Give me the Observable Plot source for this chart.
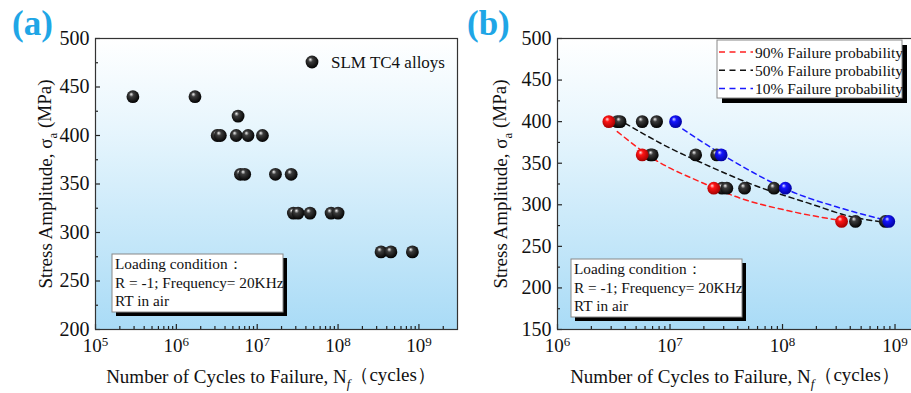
<!DOCTYPE html>
<html><head><meta charset="utf-8">
<script src="https://cdn.jsdelivr.net/npm/d3@7"></script>
<script src="https://cdn.jsdelivr.net/npm/@observablehq/plot@0.6"></script>
<style>
html,body{margin:0;padding:0;background:#fff;overflow:hidden;}
#wrap{position:relative;width:911px;height:393px;overflow:hidden;}
#wrap svg{position:absolute;top:0;}
</style></head><body><div id="wrap"></div>
<script>
// ---------- data ----------
// Panel (a): all specimens
const aCycles = [2.9e5, 1.7e6, 5.8e6, 3.2e6, 3.5e6, 5.5e6, 7.7e6, 1.16e7, 6.2e6, 7.0e6, 1.68e7, 2.63e7, 2.8e7, 3.2e7, 4.5e7, 8.2e7, 1.0e8, 3.4e8, 4.5e8, 8.3e8];
const aStress = [440, 440, 420, 400, 400, 400, 400, 400, 360, 360, 360, 360, 320, 320, 320, 320, 320, 280, 280, 280];
// Panel (b)
const bBlackCycles = [3.4e6, 3.6e6, 5.66e6, 7.6e6, 6.7e6, 6.95e6, 1.69e7, 2.6e7, 2.9e7, 3.2e7, 4.6e7, 8.4e7, 4.45e8, 8.2e8];
const bBlackStress = [400, 400, 400, 400, 360, 360, 360, 360, 320, 320, 320, 320, 280, 280];
const bRedCycles = [2.86e6, 5.66e6, 2.45e7, 3.35e8];
const bRedStress = [400, 360, 320, 280];
const bBlueCycles = [1.12e7, 2.85e7, 1.06e8, 8.8e8];
const bBlueStress = [400, 360, 320, 280];
// fitted P-S-N curves
const redLineN = [3.4e6, 7.2e6, 1.9e7, 4.2e7, 1.2e8, 3.3e8];
const redLineS = [388, 355, 327, 308, 292, 281];
const blackLineN = [4.0e6, 9.4e6, 2.1e7, 6.0e7, 1.7e8, 4.0e8, 8.0e8];
const blackLineS = [398, 370, 348, 322, 302, 286, 279];
const blueLineN = [1.3e7, 3.7e7, 1.2e8, 3.3e8, 8.5e8];
const blueLineS = [391, 352, 316, 296, 281];
// ticks and labels
const aXTicks = [1e5, 1e6, 1e7, 1e8, 1e9];
const aYTicks = [200, 250, 300, 350, 400, 450, 500];
const bXTicks = [1e6, 1e7, 1e8, 1e9];
const bYTicks = [150, 200, 250, 300, 350, 400, 450, 500];
const legendA = ["SLM TC4 alloys"];
const legendB = ["90% Failure probability", "50% Failure probability", "10% Failure probability"];
const legendBColors = ["#ff2020", "#111111", "#1a1aff"];
const loadingText = ["Loading condition：", "R = -1; Frequency= 20KHz", "RT in air"];
const panelLabels = ["(a)", "(b)"];

// ---------- helpers ----------
const FONT = "'Liberation Serif','Times New Roman',serif";
const toPairs = (xs, ys) => xs.map((x, i) => ({x, y: ys[i]}));
function minorLog(ticks, dom) {
  const out = [];
  const lo = Math.floor(Math.log10(dom[0])), hi = Math.ceil(Math.log10(dom[1]));
  for (let e = lo; e <= hi; e++) for (let m = 2; m <= 9; m++) {
    const v = m * Math.pow(10, e);
    if (v > dom[0] && v < dom[1]) out.push(v);
  }
  return out;
}
function minorLin(ticks) {
  const out = [];
  for (let i = 0; i < ticks.length - 1; i++) out.push((ticks[i] + ticks[i + 1]) / 2);
  return out;
}
function addDefs(svg, pre) {
  const defs = d3.select(svg).insert("defs", ":first-child");
  const bg = defs.append("linearGradient").attr("id", pre + "bg").attr("x1", 0).attr("y1", 0).attr("x2", 0).attr("y2", 1);
  [[0, "#ffffff"], [0.3, "#e8f6fd"], [1, "#a9dbf6"]].forEach(([o, c]) => bg.append("stop").attr("offset", o).attr("stop-color", c));
  const balls = {black: ["#f4f4f4", "#3c3c3c", "#000000"], red: ["#ffe0e0", "#ff1515", "#a00000"], blue: ["#e0e0ff", "#1515ff", "#00009a"]};
  for (const [k, [c0, c1, c2]] of Object.entries(balls)) {
    const g = defs.append("radialGradient").attr("id", pre + k)
      .attr("cx", 0.45).attr("cy", 0.42).attr("r", 0.6).attr("fx", 0.36).attr("fy", 0.3);
    g.append("stop").attr("offset", 0).attr("stop-color", c0);
    g.append("stop").attr("offset", 0.3).attr("stop-color", c1);
    g.append("stop").attr("offset", 1).attr("stop-color", c2);
  }
}
function axisMarks(xTicks, yTicks, xDom, innerW, innerH) {
  return [
    Plot.axisX({ticks: xTicks, tickSize: 0, tickPadding: 9, tickFormat: d => "10^" + Math.round(Math.log10(d)), label: null, fontSize: 19}),
    Plot.axisY({ticks: yTicks, tickSize: 0, tickPadding: 6, label: null, fontSize: 20}),
    Plot.tickX(xTicks, {x: d => d, insetTop: innerH - 5, stroke: "#222", strokeWidth: 1.2}),
    Plot.tickX(minorLog(xTicks, xDom), {x: d => d, insetTop: innerH - 3, stroke: "#222", strokeWidth: 1.2}),
    Plot.tickY(yTicks, {y: d => d, insetRight: innerW - 5, stroke: "#222", strokeWidth: 1.2}),
    Plot.tickY(minorLin(yTicks), {y: d => d, insetRight: innerW - 3, stroke: "#222", strokeWidth: 1.2})
  ];
}
function fixExponents(svg) {
  d3.select(svg).selectAll('g[aria-label="x-axis tick label"] text').each(function () {
    const t = d3.select(this);
    const parts = t.text().split("^");
    if (parts.length < 2) return;
    t.text(parts[0]);
    t.append("tspan").attr("dy", "-0.45em").attr("font-size", "13px").text(parts[1]);
  });
}
function txt(sel, x, y, size, anchor = "start") {
  return sel.append("text").attr("x", x).attr("y", y).attr("font-size", size)
    .attr("font-family", FONT).attr("fill", "#111").attr("text-anchor", anchor);
}
function addTitles(svg, yx, yy, xx, xy, label) {
  const s = d3.select(svg);
  const yt = s.append("text").attr("transform", `translate(${yx},${yy}) rotate(-90)`)
    .attr("text-anchor", "middle").attr("font-size", 19).attr("font-family", FONT).attr("fill", "#111");
  yt.append("tspan").text("Stress Amplitude, σ");
  yt.append("tspan").attr("font-size", 13).attr("dy", "0.35em").text("a");
  yt.append("tspan").attr("dy", "-0.3em").text(" (MPa)");
  const xt = txt(s, xx, xy, 19, "middle");
  xt.append("tspan").text("Number of Cycles to Failure, N");
  xt.append("tspan").attr("font-size", 13).attr("font-style", "italic").attr("dy", "0.35em").text("f");
  xt.append("tspan").attr("dy", "-0.35em").text("（cycles）");
  txt(s, label.x, 35, 35).attr("font-weight", "bold").attr("fill", "#1fa6e6").text(label.t);
}
function addLoadingBox(svg, x, y) {
  const s = d3.select(svg);
  s.append("rect").attr("x", x + 4).attr("y", y + 4).attr("width", 171).attr("height", 58).attr("fill", "#000");
  s.append("rect").attr("x", x).attr("y", y).attr("width", 171).attr("height", 58).attr("fill", "#fff").attr("stroke", "#888").attr("stroke-width", 1);
  loadingText.forEach((t, i) => txt(s, x + 3, y + 15 + i * 18.5, 15.3).text(t));
}

const wrap = document.getElementById("wrap");

// ---------- panel (a) ----------
{
  const W = 460, H = 393, mL = 95, mR = 3, mT = 38, mB = 64;
  const xDom = [1e5, 3e9];
  const svg = Plot.plot({
    width: W, height: H, marginLeft: mL, marginRight: mR, marginTop: mT, marginBottom: mB,
    style: {fontFamily: FONT, fontSize: "18px", color: "#111", background: "transparent", overflow: "visible"},
    x: {type: "log", domain: xDom},
    y: {domain: [200, 500]},
    marks: [
      Plot.frame({fill: "url(#pa_bg)"}),
      ...axisMarks(aXTicks, aYTicks, xDom, W - mL - mR, H - mT - mB),
      Plot.dot(toPairs(aCycles, aStress), {x: "x", y: "y", r: 6.4, fill: "url(#pa_black)"}),
      Plot.frame({stroke: "#333", strokeWidth: 1.2})
    ]
  });
  addDefs(svg, "pa_");
  fixExponents(svg);
  svg.style.left = "0px";
  const s = d3.select(svg);
  s.append("circle").attr("cx", 312).attr("cy", 62).attr("r", 6.4).attr("fill", "url(#pa_black)");
  txt(s, 331, 68, 17).text(legendA[0]);
  addLoadingBox(svg, 112, 254);
  addTitles(svg, 52, 184, 271, 383, {x: 12, t: panelLabels[0]});
  wrap.appendChild(svg);
}

// ---------- panel (b) ----------
{
  const W = 455, H = 393, mL = 97, mR = 3, mT = 38, mB = 64;
  const xDom = [1e6, 1.43e9];
  const lineOpts = {x: "x", y: "y", strokeWidth: 1.5, strokeDasharray: "5,4", curve: "monotone-x"};
  const svg = Plot.plot({
    width: W, height: H, marginLeft: mL, marginRight: mR, marginTop: mT, marginBottom: mB,
    style: {fontFamily: FONT, fontSize: "18px", color: "#111", background: "transparent", overflow: "visible"},
    x: {type: "log", domain: xDom},
    y: {domain: [150, 500]},
    marks: [
      Plot.frame({fill: "url(#pb_bg)"}),
      ...axisMarks(bXTicks, bYTicks, xDom, W - mL - mR, H - mT - mB),
      Plot.line(toPairs(redLineN, redLineS), {...lineOpts, stroke: legendBColors[0]}),
      Plot.line(toPairs(blackLineN, blackLineS), {...lineOpts, stroke: legendBColors[1]}),
      Plot.line(toPairs(blueLineN, blueLineS), {...lineOpts, stroke: legendBColors[2]}),
      Plot.dot(toPairs(bBlackCycles, bBlackStress), {x: "x", y: "y", r: 6.4, fill: "url(#pb_black)"}),
      Plot.dot(toPairs(bRedCycles, bRedStress), {x: "x", y: "y", r: 6.4, fill: "url(#pb_red)"}),
      Plot.dot(toPairs(bBlueCycles, bBlueStress), {x: "x", y: "y", r: 6.4, fill: "url(#pb_blue)"}),
      Plot.frame({stroke: "#333", strokeWidth: 1.2})
    ]
  });
  addDefs(svg, "pb_");
  fixExponents(svg);
  svg.style.left = "460px";
  const s = d3.select(svg);
  s.append("rect").attr("x", 262).attr("y", 45).attr("width", 185).attr("height", 58).attr("fill", "#000");
  s.append("rect").attr("x", 257).attr("y", 40).attr("width", 185).attr("height", 58).attr("fill", "#fff").attr("stroke", "#888");
  legendB.forEach((t, i) => {
    const y = 52 + i * 18.3;
    s.append("line").attr("x1", 259).attr("x2", 293).attr("y1", y).attr("y2", y)
      .attr("stroke", legendBColors[i]).attr("stroke-width", 1.5).attr("stroke-dasharray", "6,4.5");
    txt(s, 295, y + 5.5, 15.5).text(t);
  });
  addLoadingBox(svg, 111, 259);
  addTitles(svg, 47, 184, 275, 383, {x: 7, t: panelLabels[1]});
  wrap.appendChild(svg);
}
</script></body></html>
